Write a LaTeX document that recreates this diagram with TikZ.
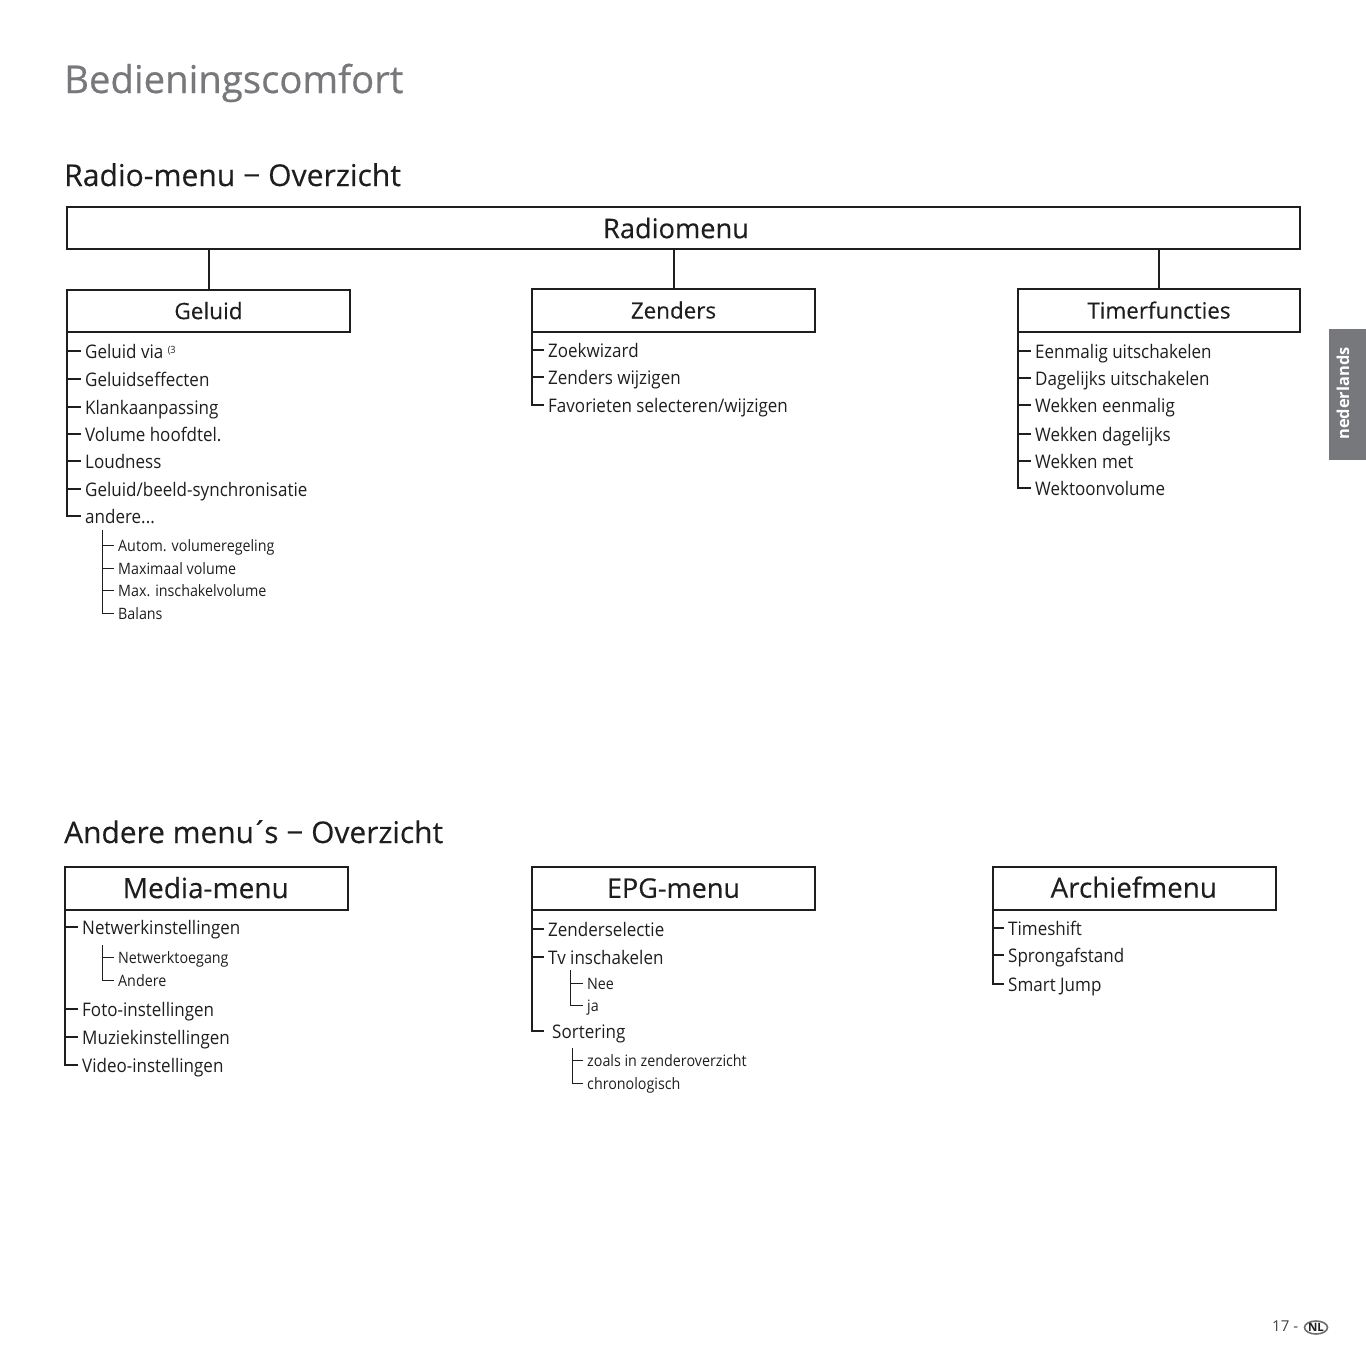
\documentclass[tikz,border=0pt]{standalone}
\usepackage{fontspec}
\setmainfont{Open Sans}
\newfontfamily\narrowf[FakeStretch=0.91]{Open Sans}
\newfontfamily\headf[FakeBold=0.25]{Open Sans}
\newfontfamily\titlef[FakeBold=0.5]{Open Sans}
\usetikzlibrary{shapes.geometric}
\definecolor{ink}{HTML}{1E1E1E}
\definecolor{tabgrey}{HTML}{77787B}
\newcommand{\fs}[1]{\fontsize{#1}{#1}\selectfont}
\tikzset{
  x=1pt,y=-1pt,
  box/.style={draw=ink,line width=2pt,minimum width=283pt,minimum height=43pt,inner sep=0pt,text=ink,anchor=north west},
  head/.style={anchor=base west,inner sep=0pt,text=ink},
  mainit/.style={anchor=west,inner ysep=0pt,inner xsep=4pt,text height=17pt,text depth=3pt,text=ink,font=\narrowf\fs{18.7}},
  subit/.style={anchor=west,inner ysep=0pt,inner xsep=4pt,text height=15pt,text depth=3pt,text=ink,font=\narrowf\fs{15.7}},
  tree/.style={draw=ink,line width=1.1pt},
  treeb/.style={draw=ink,line width=1.9pt},
  subtree/.style={draw=ink,line width=1pt},
}
\begin{document}
\begin{tikzpicture}
\useasboundingbox (0,0) rectangle (1366,1366);
% headings
\node[head,text=tabgrey,font=\titlef\fs{38.3}] (title) at (64,93) {Bedieningscomfort};
\node[head,font=\headf\fs{30.1}] (h1) at (64,186) {Radio-menu − Overzicht};
\node[head,font=\headf\fs{29.9}] (h2) at (64,843) {Andere menu\kern-3pt´\kern-4pt s − Overzicht};
% top boxes
\node[box,minimum width=1233pt,minimum height=42pt,font=\headf\fs{27.2}] (radio) at (66,206) {\raisebox{0pt}{Radiomenu}\hspace*{15pt}};
\node[box,minimum height=42pt,font=\headf\fs{22.6}] (geluid) at (66,289) {\raisebox{1pt}{Geluid}};
\node[box,font=\headf\fs{22.4}] (zenders) at (531,288) {\raisebox{1pt}{Zenders}};
\node[box,minimum width=282pt,font=\headf\fs{22.4}] (timer) at (1017,288) {\raisebox{1pt}{Timerfuncties}};
\draw[treeb,line width=2pt] (geluid.north) -- (geluid.north |- radio.south);
\draw[treeb,line width=2pt] (zenders.north) -- (zenders.north |- radio.south);
\draw[treeb,line width=2pt] (timer.north) -- (timer.north |- radio.south);
% Geluid list
\node[mainit] (g1) at (81,351) {Geluid via {\fs{10}\raisebox{5pt}{(3}}};
\node[mainit] (g2) at (81,379) {Geluidseffecten};
\node[mainit] (g3) at (81,407) {Klankaanpassing};
\node[mainit] (g4) at (81,434) {Volume hoofdtel.};
\node[mainit] (g5) at (81,461) {Loudness};
\node[mainit] (g6) at (81,489) {Geluid/beeld-synchronisatie};
\node[mainit] (g7) at (81,516) {andere...};
\foreach \n in {1,3,4}{\draw[tree] ([xshift=1pt]geluid.south west) |- (g\n.west);}
\foreach \n in {2,5,6,7}{\draw[treeb] ([xshift=1pt]geluid.south west) |- (g\n.west);}
\coordinate (gs) at (102,530);
\node[subit] (a1) at (114,545) {Autom. volumeregeling};
\node[subit] (a2) at (114,568) {Maximaal volume};
\node[subit] (a3) at (114,590) {Max. inschakelvolume};
\node[subit] (a4) at (114,613) {Balans};
\foreach \n in {1,...,4}{\draw[subtree] (gs) |- (a\n.west);}
% Zenders list
\node[mainit] (z1) at (544,350) {Zoekwizard};
\node[mainit] (z2) at (544,377) {Zenders wijzigen};
\node[mainit] (z3) at (544,405) {Favorieten selecteren/wijzigen};
\foreach \n in {2,3}{\draw[tree] ([xshift=1pt]zenders.south west) |- (z\n.west);}
\draw[treeb] ([xshift=1pt]zenders.south west) |- (z1.west);
% Timer list
\node[mainit] (t1) at (1031,351) {Eenmalig uitschakelen};
\node[mainit] (t2) at (1031,378) {Dagelijks uitschakelen};
\node[mainit] (t3) at (1031,405) {Wekken eenmalig};
\node[mainit] (t4) at (1031,434) {Wekken dagelijks};
\node[mainit] (t5) at (1031,461) {Wekken met};
\node[mainit] (t6) at (1031,488) {Wektoonvolume};
\foreach \n in {1,5,6}{\draw[tree] ([xshift=1pt]timer.south west) |- (t\n.west);}
\foreach \n in {2,3,4}{\draw[treeb] ([xshift=1pt]timer.south west) |- (t\n.west);}
% bottom boxes
\node[box,font=\headf\fs{28}] (media) at (64,866) {\raisebox{2pt}{Media-menu\hspace*{1.5pt}}};
\node[box,font=\headf\fs{27}] (epg) at (531,866) {\raisebox{1pt}{EPG-menu}};
\node[box,font=\headf\fs{27.8}] (arch) at (992,866) {\raisebox{3pt}{Archiefmenu\hspace*{1.5pt}}};
% Media list
\node[mainit] (m1) at (78,927) {Netwerkinstellingen};
\node[mainit] (m2) at (78,1009) {Foto-instellingen};
\node[mainit] (m3) at (78,1037) {Muziekinstellingen};
\node[mainit] (m4) at (78,1065) {Video-instellingen};
\foreach \n in {2,3}{\draw[tree] ([xshift=1pt]media.south west) |- (m\n.west);}
\foreach \n in {1,4}{\draw[treeb] ([xshift=1pt]media.south west) |- (m\n.west);}
\coordinate (ms) at (102,945);
\node[subit] (n1) at (114,957) {Netwerktoegang};
\node[subit] (n2) at (114,980) {Andere};
\foreach \n in {1,2}{\draw[subtree] (ms) |- (n\n.west);}
% EPG list
\node[mainit] (e1) at (544,929) {Zenderselectie};
\node[mainit] (e2) at (544,957) {Tv inschakelen};
\node[mainit,inner xsep=8pt] (e3) at (544,1031) {Sortering};
\foreach \n in {1,2}{\draw[tree] ([xshift=1pt]epg.south west) |- (e\n.west);}
\draw[treeb] ([xshift=1pt]epg.south west) |- (e3.west);
\coordinate (es) at (570,970);
\node[subit] (k1) at (583,983) {Nee};
\node[subit] (k2) at (583,1005) {ja};
\foreach \n in {1,2}{\draw[subtree] (es) |- (k\n.west);}
\coordinate (ft) at (572,1048);
\node[subit] (o1) at (583,1060) {zoals in zenderoverzicht};
\node[subit] (o2) at (583,1083) {chronologisch};
\foreach \n in {1,2}{\draw[subtree] (ft) |- (o\n.west);}
% Archief list
\node[mainit] (r1) at (1004,928) {Timeshift};
\node[mainit] (r2) at (1004,955) {Sprongafstand};
\node[mainit] (r3) at (1004,984) {Smart Jump};
\foreach \n in {1,...,3}{\draw[treeb] ([xshift=1pt]arch.south west) |- (r\n.west);}
% side tab
\node[fill=tabgrey,minimum width=37pt,minimum height=131pt,inner sep=0pt,anchor=north west] (tab) at (1329,329) {};
\node[rotate=90,text=white,font=\bfseries\fs{16.4},inner sep=0pt] (tabt) at (1343,393.5) {nederlands};
% page number
\node[head,text=ink!85,font=\fs{15}] (pg) at (1272,1331) {17 -};
\node[ellipse,draw=ink!65,line width=1.6pt,fill=white,minimum width=23pt,minimum height=13pt,inner sep=0pt,font=\bfseries\fs{11.5},text=ink] (nl) at (1316,1327.5) {NL};
\end{tikzpicture}
\end{document}
